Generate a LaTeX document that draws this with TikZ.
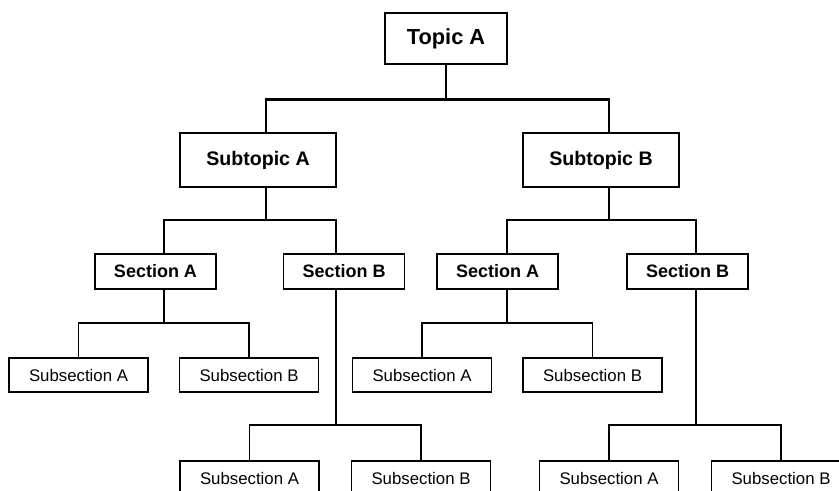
\documentclass[tikz,border=0pt]{standalone}
\usepackage{fontspec}
\setmainfont{Liberation Sans}
\usetikzlibrary{positioning}

\tikzset{
  box/.style={draw,line width=0.8pt,inner sep=0pt,fill=white},
  topbox/.style={box,font=\fontsize{10.9}{13}\selectfont\bfseries,minimum width=61pt,minimum height=25.5pt},
  subtbox/.style={box,font=\fontsize{9.8}{12}\selectfont\bfseries,minimum width=78pt,minimum height=27pt},
  secbox/.style={box,font=\fontsize{9}{11}\selectfont\bfseries,minimum width=60.5pt,minimum height=17.5pt},
  ssbox/.style={box,font=\fontsize{8.4}{10}\selectfont,minimum width=69.5pt,minimum height=17pt},
  conn/.style={line width=1.2pt},
  subconn/.style={line width=0.75pt}
}

\begin{document}
\begin{tikzpicture}[x=0.5pt,y=-0.5pt]
  \useasboundingbox (0,0) rectangle (839,491);
  \clip (0,0) rectangle (839,491);

  % boxes
  \node[topbox] (topA) at (446,38.5) {Topic A};
  \node[subtbox] (subA) at (258,160) {Subtopic A};
  \node[subtbox] (subB) at (601,160) {Subtopic B};
  \node[secbox] (secAL) at (155.5,271.5) {Section A};
  \node[secbox] (secBL) at (344,271.5) {Section B};
  \node[secbox] (secAR) at (497.5,271.5) {Section A};
  \node[secbox] (secBR) at (687.5,271.5) {Section B};
  \node[ssbox] (ssA1) at (78.5,375) {Subsection A};
  \node[ssbox] (ssB1) at (249,375) {Subsection B};
  \node[ssbox] (ssA2) at (249.5,478) {Subsection A};
  \node[ssbox] (ssB2) at (421,478) {Subsection B};
  \node[ssbox] (ssA3) at (422,375) {Subsection A};
  \node[ssbox] (ssB3) at (592.5,375) {Subsection B};
  \node[ssbox] (ssA4) at (609,478) {Subsection A};
  \node[ssbox] (ssB4) at (781,478) {Subsection B};

  % junctions
  \coordinate (tA) at (266,99.5);
  \coordinate (tB) at (609,99.5);
  \coordinate (uA) at (164,220);
  \coordinate (uB) at (336,220);
  \coordinate (vA) at (507,220);
  \coordinate (vB) at (696,220);
  \coordinate (w1) at (164,323);
  \coordinate (w2) at (336,425);
  \coordinate (w3) at (507,323);
  \coordinate (w4) at (696,425);

  % topic level
  \draw[conn] (topA.south) -- (topA.south |- tA);
  \draw[conn] (subA.north -| tA) -- (tA) -- (tB) -- (subB.north -| tB);

  % subtopic level
  \draw[conn] (subA.south -| tA) -- (uA -| tA);
  \draw[conn] (secAL.north -| uA) -- (uA) -- (uB) -- (secBL.north -| uB);
  \draw[conn] (subB.south -| tB) -- (vA -| tB);
  \draw[conn] (secAR.north -| vA) -- (vA) -- (vB) -- (secBR.north -| vB);

  % section level
  \draw[conn] (secAL.south -| w1) -- (w1);
  \draw[subconn] (ssA1.north) -- (ssA1.north |- w1) -- (ssB1.north |- w1) -- (ssB1.north);
  \draw[conn] (secBL.south -| w2) -- (w2);
  \draw[subconn] (ssA2.north) -- (ssA2.north |- w2) -- (ssB2.north |- w2) -- (ssB2.north);
  \draw[conn] (secAR.south -| w3) -- (w3);
  \draw[subconn] (ssA3.north) -- (ssA3.north |- w3) -- (ssB3.north |- w3) -- (ssB3.north);
  \draw[conn] (secBR.south -| w4) -- (w4);
  \draw[subconn] (ssA4.north) -- (ssA4.north |- w4) -- (ssB4.north |- w4) -- (ssB4.north);
\end{tikzpicture}
\end{document}
